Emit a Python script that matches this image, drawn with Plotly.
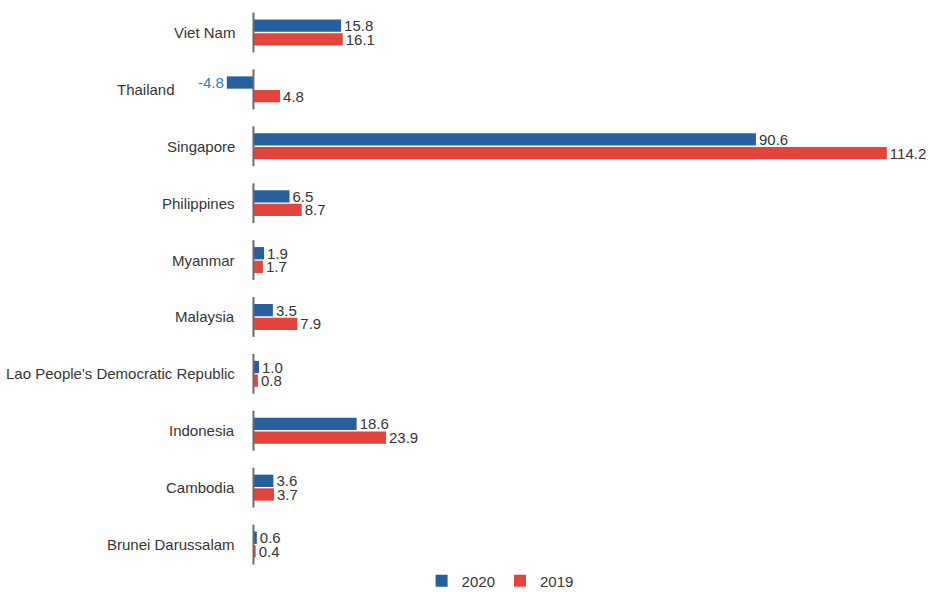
import plotly.graph_objects as go

# Net FDI inflows by ASEAN member state (US$ billion)
countries = [
    "Viet Nam", "Thailand", "Singapore", "Philippines", "Myanmar",
    "Malaysia", "Lao People's Democratic Republic", "Indonesia",
    "Cambodia", "Brunei Darussalam",
]
values_2020 = [15.8, -4.8, 90.6, 6.5, 1.9, 3.5, 1.0, 18.6, 3.6, 0.6]
values_2019 = [16.1, 4.8, 114.2, 8.7, 1.7, 7.9, 0.8, 23.9, 3.7, 0.4]

BLUE = "#265f9e"
RED = "#e4443c"
TEXT = "#353535"
NEG_TEXT = "#2f7dc0"
FONT = "Liberation Sans, Arial, sans-serif"

fig = go.Figure()
for name, vals, color in [("2020", values_2020, BLUE), ("2019", values_2019, RED)]:
    fig.add_trace(go.Bar(
        name=name,
        y=countries,
        x=vals,
        orientation="h",
        marker=dict(color=color, line=dict(width=0)),
        text=[f"{v:.1f}" for v in vals],
        textposition="outside",
        textfont=dict(family=FONT, size=15,
                      color=[NEG_TEXT if v < 0 else TEXT for v in vals]),
        constraintext="none",
        cliponaxis=False,
    ))

# Category labels sit just left of the leftmost mark in each row
annotations = []
for i, c in enumerate(countries):
    lo = min(0, values_2020[i], values_2019[i])
    annotations.append(dict(
        x=lo, y=c, xref="x", yref="y",
        text=c, showarrow=False,
        xanchor="right", yanchor="middle",
        xshift=-16 if lo == 0 else -50,
        font=dict(family=FONT, size=15, color=TEXT),
    ))

# Short baseline segment through each category row
shapes = []
for i, c in enumerate(countries):
    shapes.append(dict(
        type="line", xref="x", yref="y",
        x0=0, x1=0, y0=i - 0.35, y1=i + 0.35,
        line=dict(color="#6a6a6a", width=2),
        layer="above",
    ))

fig.update_layout(
    width=930, height=592,
    margin=dict(l=198, r=11, t=4, b=19, autoexpand=False),
    paper_bgcolor="white", plot_bgcolor="white",
    barmode="group", bargap=0.52, bargroupgap=0.1,
    font=dict(family=FONT, size=15, color=TEXT),
    xaxis=dict(range=[-10, 120], visible=False, fixedrange=True),
    yaxis=dict(autorange="reversed", showticklabels=False, showgrid=False,
               zeroline=False, showline=False, ticks=""),
    showlegend=True,
    legend=dict(orientation="h", x=0.419, xanchor="center",
                y=-0.014, yanchor="middle", itemwidth=30,
                font=dict(family=FONT, size=15, color=TEXT)),
    annotations=annotations,
    shapes=shapes,
)

fig.write_html("out.html")
